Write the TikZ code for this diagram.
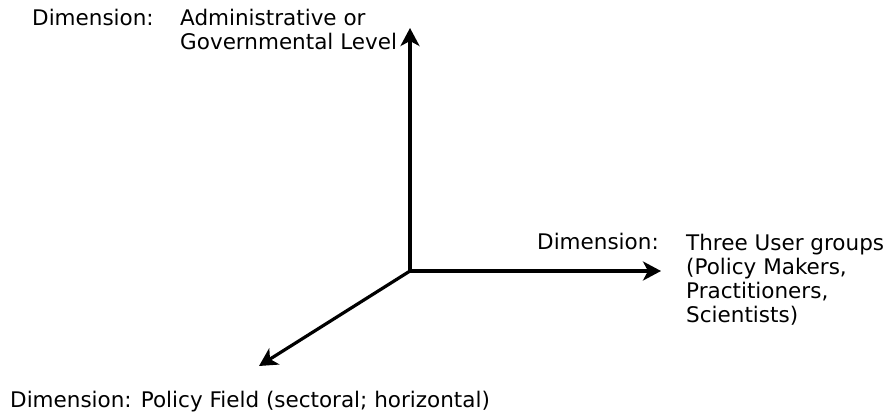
\documentclass[tikz,border=0pt]{standalone}
\usepackage{fontspec}
\setmainfont{DejaVu Sans}
\usetikzlibrary{arrows.meta}
\begin{document}
\begin{tikzpicture}[x=1pt,y=-1pt,
  lbl/.style={anchor=base west,inner sep=0pt,align=left,font=\fontsize{21.5}{24}\selectfont},
  axis/.style={line width=3.2pt,-{Stealth[length=18pt,width=19pt,inset=5pt]}}]
\useasboundingbox (0,0) rectangle (889,414);
\coordinate (o) at (410,271);
\coordinate (up) at (410,28);
\coordinate (rt) at (661,271);
\coordinate (dl) at (259,366);
\draw[axis] (o) -- (up);
\draw[axis] (o) -- (rt);
\draw[axis] (o) -- (dl);
\node[lbl] (d1) at (32,26) {Dimension:};
\node[lbl] (t1) at (180,50) {Administrative or\\Governmental Level};
\node[lbl] (d2) at (537,250) {Dimension:};
\node[lbl] (t2) at (686,322) {Three User groups\\(Policy Makers,\\Practitioners,\\Scientists)};
\node[lbl] (d3) at (10,407) {Dimension: Policy Field (sectoral; horizontal)};
\end{tikzpicture}
\end{document}
